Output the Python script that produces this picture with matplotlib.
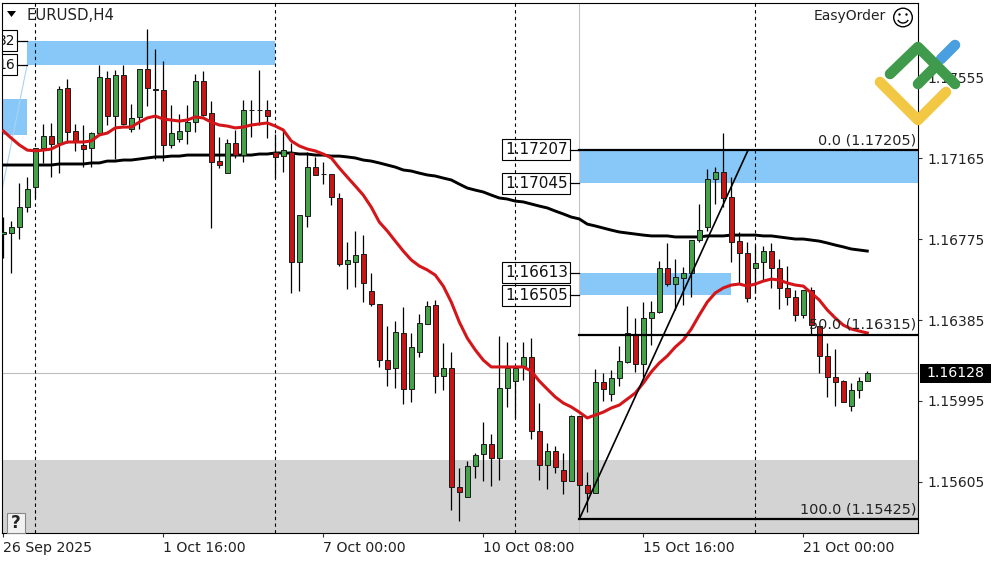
import numpy as np
import matplotlib.pyplot as plt
from matplotlib.patches import Circle, Arc, Polygon, Rectangle

# H4 candles, prices in points (1.17165 = 117165)
opens = [116800, 116805, 116834, 116930, 117027, 117215, 117273, 117239, 117504, 117297,
         117230, 117215, 117287, 117553, 117369, 117567, 117307, 117365, 117596, 117502,
         117495, 117230, 117258, 117297, 117340, 117538, 117384, 117152, 117094, 117239,
         117181, 117398, 117398, 117398, 117196, 117176, 117196, 116665, 116887, 117123,
         117090, 117090, 116974, 116655, 116665, 116704, 116525, 116462, 116192, 116154,
         116323, 116052, 116231, 116366, 116458, 116115, 116154, 115580, 115531, 115681,
         115739, 115787, 115720, 116057, 116091, 116163, 116207, 115850, 115686, 115753,
         115662, 115609, 115922, 115589, 115551, 116086, 116028, 116106, 116183, 116313,
         116173, 116395, 116424, 116636, 116559, 116588, 116612, 116771, 116834, 117065,
         117099, 116979, 116766, 116709, 116636, 116665, 116718, 116636, 116540, 116496,
         116409, 116530, 116356, 116212, 116110, 116091, 115970, 116048, 116091]
highs = [116882, 116863, 117046, 117075, 117215, 117331, 117336, 117514, 117548, 117331,
         117326, 117292, 117615, 117587, 117591, 117615, 117427, 117596, 117789, 117693,
         117635, 117422, 117379, 117422, 117572, 117587, 117442, 117268, 117258, 117302,
         117447, 117447, 117591, 117447, 117283, 117297, 117239, 116892, 117196, 117172,
         117148, 117090, 116998, 116762, 116815, 116795, 116612, 116462, 116356, 116381,
         116448, 116323, 116414, 116477, 116482, 116274, 116231, 115671, 115705, 115744,
         115893, 115835, 116308, 116279, 116163, 116279, 116298, 115985, 115792, 115777,
         115744, 115927, 115922, 115652, 116149, 116130, 116144, 116260, 116453, 116395,
         116472, 116477, 116670, 116757, 116680, 116641, 116771, 116945, 117114, 117123,
         117287, 117075, 116810, 116762, 116747, 116742, 116757, 116680, 116646, 116530,
         116530, 116545, 116356, 116274, 116245, 116096, 116081, 116110, 116139]
lows = [116684, 116612, 116776, 116906, 116974, 117143, 117075, 117094, 117239, 117201,
        117123, 117123, 117278, 117326, 117162, 117326, 117292, 117307, 117418, 117162,
        117152, 117215, 117244, 117234, 117292, 117369, 116829, 117119, 117094, 117167,
        117148, 117268, 117326, 117263, 117070, 117099, 116516, 116525, 116834, 117085,
        117041, 116940, 116646, 116535, 116545, 116472, 116453, 116159, 116067, 116057,
        115980, 115990, 116207, 116366, 116033, 116048, 115469, 115416, 115531, 115623,
        115609, 115585, 115613, 115966, 115913, 116096, 115811, 115613, 115570, 115647,
        115546, 115609, 115430, 115459, 115551, 115995, 115995, 116067, 116178, 116135,
        116110, 116265, 116419, 116549, 116434, 116458, 116496, 116762, 116815, 116945,
        116930, 116665, 116564, 116472, 116516, 116578, 116540, 116438, 116458, 116381,
        116395, 116318, 116130, 116014, 115970, 115990, 115946, 116009, 116091]
closes = [116810, 116834, 116930, 117017, 117215, 117273, 117234, 117500, 117292, 117244,
          117210, 117287, 117558, 117369, 117567, 117331, 117360, 117596, 117504, 117497,
          117230, 117287, 117297, 117340, 117538, 117374, 117148, 117133, 117239, 117181,
          117398, 117398, 117398, 117369, 117172, 117205, 116665, 116892, 117123, 117085,
          117090, 116979, 116655, 116675, 116699, 116564, 116462, 116192, 116149, 116327,
          116052, 116255, 116371, 116453, 116115, 116154, 115580, 115556, 115681, 115734,
          115787, 115720, 116057, 116154, 116154, 116207, 115850, 115686, 115753, 115676,
          115609, 115922, 115589, 115551, 116086, 116052, 116106, 116188, 116323, 116173,
          116395, 116424, 116636, 116559, 116593, 116612, 116771, 116819, 117065, 117099,
          116974, 116762, 116709, 116491, 116660, 116718, 116636, 116540, 116496, 116409,
          116530, 116361, 116212, 116110, 116086, 115990, 116048, 116091, 116130]

ma_fast = [117297, 117263, 117230, 117205, 117201, 117205, 117210, 117230, 117244, 117244,
           117244, 117249, 117278, 117287, 117312, 117316, 117316, 117340, 117360, 117369,
           117355, 117350, 117345, 117350, 117365, 117360, 117340, 117326, 117321, 117312,
           117316, 117326, 117331, 117336, 117321, 117302, 117249, 117225, 117210, 117201,
           117186, 117167, 117119, 117075, 117032, 116988, 116930, 116858, 116815, 116766,
           116718, 116675, 116646, 116627, 116602, 116549, 116472, 116376, 116298, 116241,
           116192, 116159, 116159, 116159, 116159, 116159, 116139, 116091, 116052, 116014,
           115985, 115966, 115941, 115913, 115927, 115941, 115961, 115975, 116004, 116033,
           116081, 116135, 116178, 116212, 116255, 116289, 116342, 116409, 116472, 116516,
           116540, 116554, 116559, 116549, 116559, 116573, 116583, 116578, 116564, 116554,
           116549, 116516, 116482, 116434, 116395, 116361, 116342, 116332, 116323]
ma_slow = [117133, 117133, 117133, 117133, 117133, 117133, 117133, 117138, 117138, 117138,
           117138, 117143, 117143, 117152, 117152, 117157, 117157, 117162, 117167, 117172,
           117172, 117176, 117176, 117181, 117181, 117181, 117181, 117181, 117181, 117181,
           117181, 117181, 117186, 117186, 117191, 117191, 117191, 117186, 117186, 117181,
           117181, 117176, 117176, 117172, 117167, 117157, 117152, 117143, 117133, 117123,
           117109, 117104, 117094, 117085, 117080, 117070, 117061, 117041, 117022, 117012,
           117003, 116988, 116974, 116969, 116959, 116955, 116945, 116935, 116926, 116911,
           116897, 116882, 116873, 116848, 116839, 116829, 116819, 116810, 116805, 116800,
           116795, 116791, 116791, 116791, 116786, 116786, 116786, 116786, 116791, 116791,
           116791, 116795, 116795, 116795, 116795, 116791, 116791, 116786, 116781, 116776,
           116776, 116771, 116766, 116757, 116747, 116738, 116728, 116723, 116718]

date_labels = ['26 Sep 2025', '1 Oct 16:00', '7 Oct 00:00', '10 Oct 08:00', '15 Oct 16:00', '21 Oct 00:00']
date_bars = [0, 20, 40, 60, 80, 100]
price_ticks = [1.17555, 1.17165, 1.16775, 1.16385, 1.15995, 1.15605]
day_lines = [4, 34, 64, 94]
last_price = 1.16128

# start bar, end bar, top price, bottom price
zones = [(3, 34, 1.17732, 1.17616), (72, 116, 1.17207, 1.17045), (72, 91, 1.16613, 1.16505)]
fib_levels = [('0.0', 1.17205), ('50.0', 1.16315), ('100.0', 1.15425)]

# zone price labels, the two on the left are cut by the window edge
zone_labels = ['1.17207', '1.17045', '1.16613', '1.16505', '32', '16']
zone_prices = [1.17207, 1.17045, 1.16613, 1.16505, 1.17732, 1.17616]
zone_label_ends = [70.84, 70.84, 70.84, 70.84, 1.71, 1.71]
zone_label_starts = [72, 72, 72, 72, 3, 3]

GREEN = '#45A04A'
RED = '#C41616'
ZONE = '#87C8F8'

fig = plt.figure(figsize=(10, 5.62), dpi=100)
ax = fig.add_axes([2 / 1000, 1 - 533 / 562, 915.5 / 1000, 530 / 562])
ax.set_xlim(-0.16, 114.28)
ax.set_ylim(1.15358, 1.179145)

# grey support area and old zone on the left edge
ax.axhspan(1.15358, 1.15710, color='#D3D3D3', lw=0, zorder=1)
ax.add_patch(Rectangle((-0.16, 1.17278), 3.16, 0.00173, color=ZONE, lw=0, zorder=1))
ax.plot([3, -0.16], [1.17620, 1.17012], color='#A8D4F0', lw=0.8, zorder=1)

for start, end, top, bottom in zones:
    ax.add_patch(Rectangle((start, bottom), end - start, top - bottom, color=ZONE, lw=0, zorder=1))

ax.axhline(last_price, color='#BDBDBD', lw=0.8, zorder=1.5)
ax.axvline(72, color='#C4C4C4', lw=0.8, zorder=1.5)
for bar in day_lines:
    ax.axvline(bar, color='black', lw=0.8, dashes=(3, 3), zorder=1.5)

ax.plot(np.arange(len(ma_slow)), np.array(ma_slow) / 1e5, color='black', lw=2.1, zorder=2)

for i in range(len(opens)):
    o, h, l, c = opens[i] / 1e5, highs[i] / 1e5, lows[i] / 1e5, closes[i] / 1e5
    ax.vlines(i, l, h, color='black', lw=0.9, zorder=3)
    col = GREEN if c > o else RED
    ax.bar(i, abs(c - o), bottom=min(o, c), width=0.56, color=col, edgecolor='#1A1A1A', lw=0.7, zorder=4)

ax.plot(np.arange(len(ma_fast)), np.array(ma_fast) / 1e5, color='#D4161A', lw=2.2, zorder=5)

# fibo: swing line and levels
ax.plot([72, 93.1], [1.15425, 1.17205], color='black', lw=1.2, zorder=6)
for name, level in fib_levels:
    ax.plot([72, 114.28], [level, level], color='black', lw=1.6, zorder=6)
    ax.annotate(f'{name} ({level:.5f})', (0.999, level), xycoords=ax.get_yaxis_transform(),
                xytext=(0, 2), textcoords='offset points', ha='right', va='bottom',
                fontsize=10.4, color='#222222', zorder=7)

for label, price, end, start in zip(zone_labels, zone_prices, zone_label_ends, zone_label_starts):
    ax.plot([end, start], [price, price], color='black', lw=0.9, zorder=6)
    ax.add_patch(Rectangle((end - 8.5, price - 0.00051), 8.5, 0.00102, fc='none', ec='black', lw=0.8, zorder=8))
    size = 11 if len(label) > 2 else 10
    ax.text(end - 0.2, price, label, ha='right', va='center', fontsize=size, color='#111111',
            zorder=8, clip_on=True)

ax.set_xticks(date_bars, date_labels, ha='left', fontsize=10.2)
ax.yaxis.tick_right()
ax.set_yticks(price_ticks, [f'{p:.5f}' for p in price_ticks], fontsize=10)
ax.tick_params(axis='x', length=3, width=0.8, pad=2.8, color='#333333', labelcolor='#222222')
ax.tick_params(axis='y', length=3, width=0.8, pad=4.5, color='#333333', labelcolor='#222222')

# current price tag on the scale
ytrans = ax.get_yaxis_transform()
ax.add_patch(Rectangle((1.0022, last_price - 0.00047), 0.0776, 0.00094, transform=ytrans,
                       fc='black', lw=0, clip_on=False, zorder=9))
ax.text(1.0098, last_price, f'{last_price:.5f}', transform=ytrans, ha='left', va='center',
        fontsize=10.2, color='white', clip_on=False, zorder=10)

# window furniture and logo, in pixels
over = fig.add_axes([0, 0, 1, 1], zorder=10)
over.set_xlim(0, 1000)
over.set_ylim(562, 0)
over.axis('off')

over.add_patch(Polygon([(7, 11), (16, 11), (11.5, 17)], color='black', lw=0))
over.text(26, 15, 'EURUSD,H4', fontsize=10.7, va='center', color='#222222')
over.text(886, 16, 'EasyOrder', fontsize=10, ha='right', va='center', color='#222222')
over.add_patch(Circle((903, 17.5), 9.3, fc='none', ec='black', lw=1))
over.add_patch(Circle((899.5, 14.5), 1.2, color='black', lw=0))
over.add_patch(Circle((906.5, 14.5), 1.2, color='black', lw=0))
over.add_patch(Arc((903, 18), 11, 10, theta1=20, theta2=160, ec='black', lw=1))

over.add_patch(Rectangle((7, 513), 18, 20, fc='#F2F2F2', ec='#888888', lw=0.8))
over.text(15.5, 523.5, '?', fontsize=12, fontweight='bold', ha='center', va='center', color='#222222')

logo = dict(lw=7.6, solid_capstyle='round', solid_joinstyle='round')
over.plot([941, 955], [59, 45], color='#4A9FE0', **logo)
over.plot([880, 918, 946], [82, 120, 92], color='#F2C744', **logo)
over.plot([890, 918, 955], [74, 47, 84], color='#3F9B4B', **logo)
over.plot([918, 936], [84, 66], color='#3F9B4B', **logo)

fig.savefig('out.png', dpi=100)
